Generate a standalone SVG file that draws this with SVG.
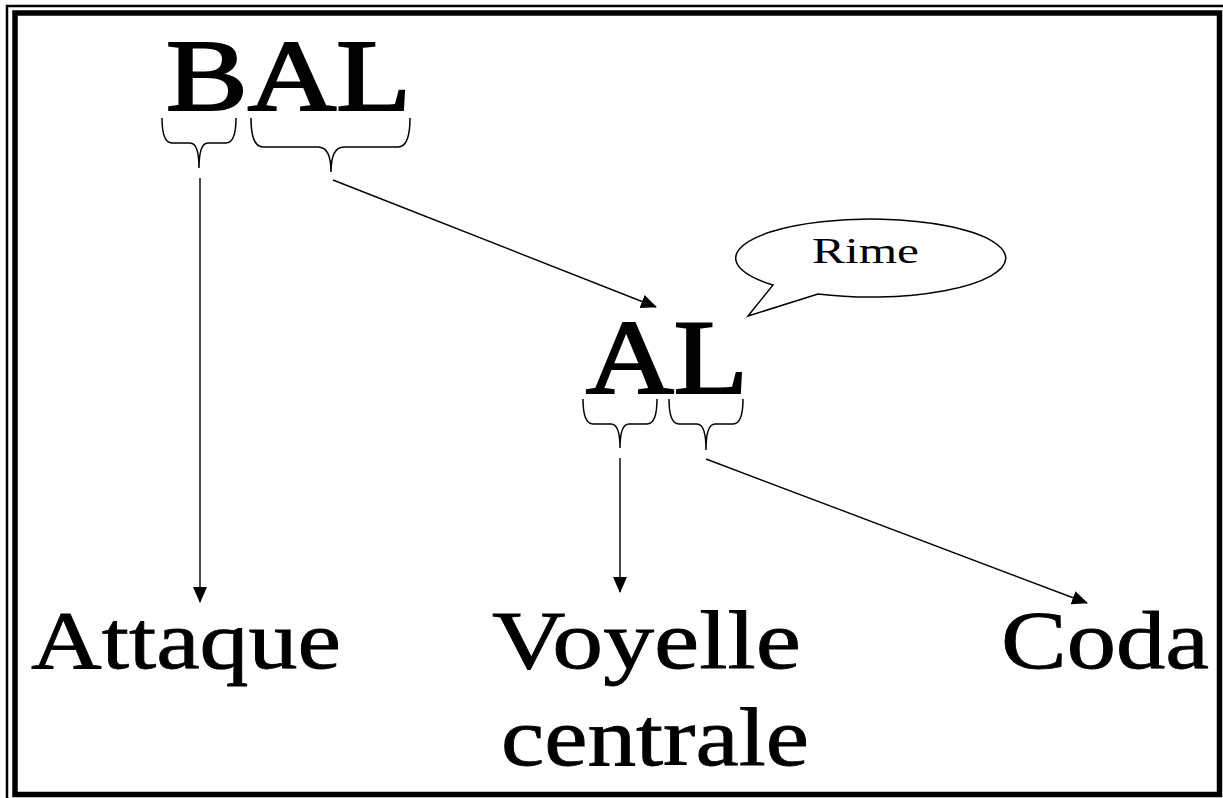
<svg xmlns="http://www.w3.org/2000/svg" width="1223" height="798" viewBox="0 0 1223 798">
<style>
.t{font-family:"Liberation Serif","Times New Roman",serif;fill:#000}
.big{stroke:#000;stroke-width:2.2}
.lab{stroke:#000;stroke-width:0.8}
.brace{fill:none;stroke:#000;stroke-width:1.5}
.conn{fill:none;stroke:#000;stroke-width:1.4}
</style>
<defs>
<marker id="ah" markerWidth="16" markerHeight="14" refX="15" refY="7" orient="auto" markerUnits="userSpaceOnUse">
<path d="M0,0 L16,7 L0,14 Z" fill="#000"/>
</marker>
</defs>
<rect width="1223" height="798" fill="#fff"/>
<g id="frame">
<rect x="7" y="6" width="1230" height="810" fill="none" stroke="#000" stroke-width="2.5"/>
<rect x="15" y="13" width="1204.5" height="781.5" fill="none" stroke="#000" stroke-width="5.5"/>
</g>
<g id="bal">
<text class="t big" x="166" y="110" font-size="101" textLength="245" lengthAdjust="spacingAndGlyphs">BAL</text>
<path class="brace" d="M162,118 Q162,143 172,143 L190,143 Q199,143 199,168 Q199,143 208,143 L226,143 Q236,143 236,118"/>
<path class="brace" d="M251,118 Q251,147 263,147 L318,147 Q331,147 331,172 Q331,147 344,147 L398,147 Q410,147 410,118"/>
</g>
<g id="al">
<text class="t big" x="586" y="393" font-size="106" textLength="162" lengthAdjust="spacingAndGlyphs">AL</text>
<path class="brace" d="M583,399 Q583,424 593,424 L611,424 Q620,424 620,448 Q620,424 629,424 L647,424 Q657,424 657,399"/>
<path class="brace" d="M669,399 Q669,424 679,424 L697,424 Q706,424 706,450 Q706,424 715,424 L733,424 Q743,424 743,399"/>
</g>
<g id="rime">
<path d="M773,285 A135,39 0 1 1 818,294 L748,316 Z" fill="#fff" stroke="#000" stroke-width="1.5" stroke-linejoin="miter"/>
<text class="t" x="812" y="263" font-size="35" textLength="107" lengthAdjust="spacingAndGlyphs">Rime</text>
</g>
<g id="attaque">
<text class="t lab" x="31" y="668" font-size="83" textLength="310" lengthAdjust="spacingAndGlyphs">Attaque</text>
</g>
<g id="voyelle">
<text class="t lab" x="492" y="668" font-size="83" textLength="309" lengthAdjust="spacingAndGlyphs">Voyelle</text>
<text class="t lab" x="501" y="765" font-size="83" textLength="308" lengthAdjust="spacingAndGlyphs">centrale</text>
</g>
<g id="coda">
<text class="t lab" x="1001" y="668" font-size="83" textLength="208" lengthAdjust="spacingAndGlyphs">Coda</text>
</g>
<g id="connectors">
<line class="conn" x1="200" y1="178" x2="200" y2="602" marker-end="url(#ah)"/>
<line class="conn" x1="333" y1="180" x2="656" y2="307" marker-end="url(#ah)"/>
<line class="conn" x1="620" y1="458" x2="620" y2="592" marker-end="url(#ah)"/>
<line class="conn" x1="706" y1="459" x2="1087" y2="603" marker-end="url(#ah)"/>
</g>
</svg>
